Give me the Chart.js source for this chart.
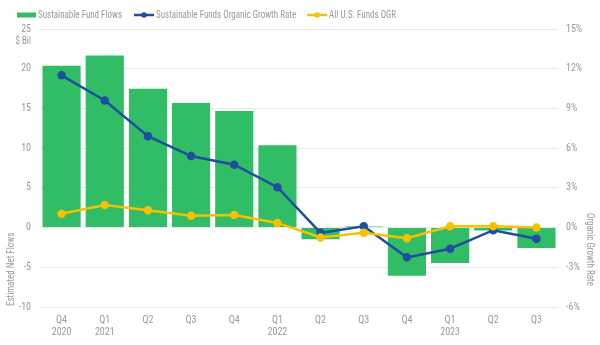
<!DOCTYPE html>
<html>
<head>
<meta charset="utf-8">
<script src="https://cdn.jsdelivr.net/npm/chart.js@4.4.0/dist/chart.umd.min.js"></script>
<style>
  html, body { margin: 0; padding: 0; background: #fff; }
  #wrap { width: 600px; height: 345px; position: relative; }
</style>
</head>
<body>
<div id="wrap"><canvas id="c" width="600" height="345"></canvas></div>
<script>
const quarters = [['Q4','2020'],['Q1','2021'],['Q2',''],['Q3',''],['Q4',''],['Q1','2022'],['Q2',''],['Q3',''],['Q4',''],['Q1','2023'],['Q2',''],['Q3','']];
const fundFlows = [20.5, 21.8, 17.6, 15.8, 14.8, 10.5, -1.6, 0.2, -6.2, -4.6, -0.5, -2.7];
const sustainableOGR = [11.5, 9.6, 6.9, 5.4, 4.75, 3.05, -0.4, 0.1, -2.25, -1.6, -0.2, -0.85];
const allFundsOGR = [1.05, 1.7, 1.3, 0.9, 0.95, 0.35, -0.75, -0.4, -0.8, 0.1, 0.1, 0.0];
const leftTicks = [-10, -5, 0, 5, 10, 15, 20, 25];
const rightTicks = [-6, -3, 0, 3, 6, 9, 12, 15];
const seriesNames = ['Sustainable Fund Flows', 'Sustainable Funds Organic Growth Rate', 'All U.S. Funds OGR'];

// pick the narrowest installed font among candidates
function pickFont() {
  const cands = ['Liberation Sans Narrow', 'Roboto Condensed', 'Open Sans Condensed', 'DejaVu Sans Condensed'];
  const cv = document.createElement('canvas').getContext('2d');
  const probe = 'Sustainable Fund Flows mmwwii';
  for (const f of cands) {
    cv.font = '20px monospace';
    const a = cv.measureText(probe).width;
    cv.font = "20px '" + f + "', monospace";
    const b = cv.measureText(probe).width;
    if (Math.abs(a - b) > 0.5) return "'" + f + "', sans-serif";
  }
  return 'sans-serif';
}
const FONT = pickFont();
const GREEN = '#30bd65';
const BLUE = '#1f4e9d';
const YELLOW = '#f5c100';
const TEXT = '#999999';

const extrasPlugin = {
  id: 'extras',
  afterDraw(chart) {
    const ctx = chart.ctx;
    const area = chart.chartArea;
    ctx.save();
    ctx.font = '10px ' + FONT;
    // horizontal condense factor so text widths match the reference's narrow face
    const sx = Math.min(1, 84 / ctx.measureText(seriesNames[0]).width);
    const txt = (s, x, y, align) => {
      ctx.save();
      ctx.translate(x, y);
      ctx.scale(sx, 1);
      ctx.textAlign = align || 'left';
      ctx.fillText(s, 0, 0);
      ctx.restore();
      return ctx.measureText(s).width * sx;
    };
    ctx.fillStyle = TEXT;
    ctx.textBaseline = 'middle';
    // Legend
    let x = 17, y = 15;
    ctx.fillStyle = GREEN;
    ctx.fillRect(x, y - 2.5, 19, 5);
    x += 21;
    ctx.fillStyle = TEXT;
    x += txt(seriesNames[0], x, y) + 12;
    const lineItems = [[BLUE, seriesNames[1]], [YELLOW, seriesNames[2]]];
    lineItems.forEach(([col, name]) => {
      ctx.strokeStyle = col; ctx.lineWidth = 2.5;
      ctx.beginPath(); ctx.moveTo(x, y); ctx.lineTo(x + 20, y); ctx.stroke();
      ctx.fillStyle = col;
      ctx.beginPath(); ctx.arc(x + 10, y, 2.8, 0, Math.PI * 2); ctx.fill();
      x += 22;
      ctx.fillStyle = TEXT;
      x += txt(name, x, y) + 11;
    });
    // $ Bil unit label
    txt('$ Bil', 31, 41, 'right');
    // left axis title
    ctx.save();
    ctx.translate(11, area.bottom - 1);
    ctx.rotate(-Math.PI / 2);
    txt('Estimated Net Flows', 0, 0, 'left');
    ctx.restore();
    // right axis title
    ctx.save();
    ctx.translate(589, 213);
    ctx.rotate(Math.PI / 2);
    txt('Organic Growth Rate', 0, 0, 'left');
    ctx.restore();
    ctx.restore();
  }
};

new Chart(document.getElementById('c'), {
  data: {
    labels: quarters,
    datasets: [
      {
        type: 'line', label: seriesNames[2], data: allFundsOGR, yAxisID: 'y1',
        borderColor: YELLOW, backgroundColor: YELLOW, borderWidth: 2.5,
        pointRadius: 3, pointHoverRadius: 3, tension: 0, order: 1
      },
      {
        type: 'line', label: seriesNames[1], data: sustainableOGR, yAxisID: 'y1',
        borderColor: BLUE, backgroundColor: BLUE, borderWidth: 2.5,
        pointRadius: 3, pointHoverRadius: 3, tension: 0, order: 2
      },
      {
        type: 'bar', label: seriesNames[0], data: fundFlows, yAxisID: 'y',
        backgroundColor: GREEN, borderColor: 'rgba(255,255,255,0.35)', borderWidth: 1,
        barPercentage: 0.93, categoryPercentage: 1.0, order: 3
      }
    ]
  },
  options: {
    responsive: false,
    animation: false,
    layout: { padding: { top: 29, left: 0, right: 0, bottom: 0 } },
    plugins: { legend: { display: false }, tooltip: { enabled: false } },
    scales: {
      x: {
        offset: true,
        grid: { display: false, drawTicks: false },
        border: { display: false },
        ticks: { color: TEXT, font: { family: FONT, size: 10, lineHeight: 1.2 }, padding: 7, maxRotation: 0, autoSkip: false }
      },
      y: {
        position: 'left',
        min: -10, max: 25,
        afterBuildTicks: (s) => { s.ticks = leftTicks.map(v => ({ value: v })); },
        afterFit: (s) => { s.width = 40; },
        grid: { color: '#e8e8e8', lineWidth: 1, drawTicks: false },
        border: { display: false },
        ticks: { color: TEXT, font: { family: FONT, size: 10 }, padding: 9 }
      },
      y1: {
        position: 'right',
        min: -6, max: 15,
        afterBuildTicks: (s) => { s.ticks = rightTicks.map(v => ({ value: v })); },
        afterFit: (s) => { s.width = 42; },
        grid: { display: false, drawTicks: false },
        border: { display: false },
        ticks: { color: TEXT, font: { family: FONT, size: 10 }, padding: 8, crossAlign: 'near', callback: (v) => v + '%' }
      }
    }
  },
  plugins: [extrasPlugin]
});
</script>
</body>
</html>
